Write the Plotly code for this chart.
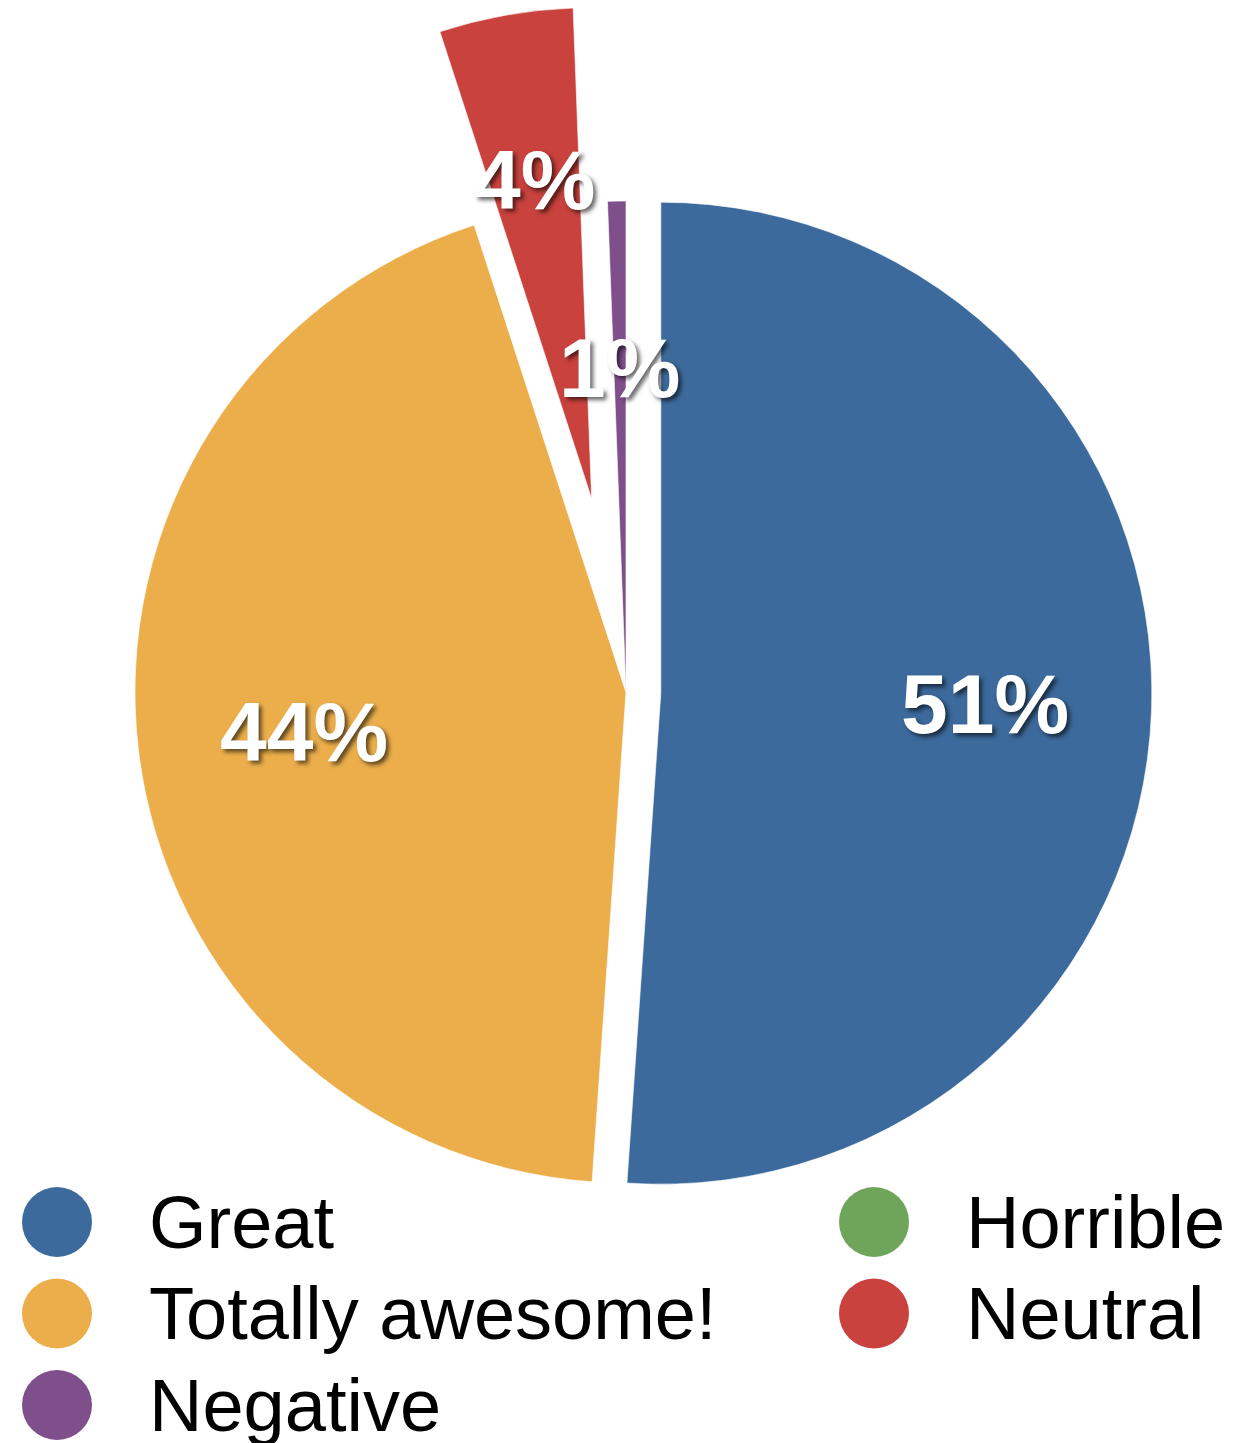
import math
import plotly.graph_objects as go

# ---------------- data ----------------
labels = ["Great", "Horrible", "Totally awesome!", "Neutral", "Negative"]
values = [51.1, 0.0, 43.9, 4.4, 0.6]
colors = ["#3c6a9c", "#6fa55b", "#ebae4b", "#c9423d", "#7f4f8b"]
pulls = [0.071, 0.0, 0.0, 0.40, 0.0]

# ---------------- layout constants (pixels) ----------------
W, H = 1236, 1443
R = 491            # pie radius
CX, CY = 626, 692  # pie centre
BIG_PULL = 0.2     # slices pulled further than this are drawn by their own trace
LABEL_R = 0.66     # label distance from slice apex, fraction of R
FONT = "Liberation Sans, Arial, Helvetica, sans-serif"

total = sum(values)
TRANSPARENT = "rgba(0,0,0,0)"


def slice_dirs():
    dirs = []
    cum = 0.0
    for v in values:
        mid = (cum + v / 2) / total * 2 * math.pi
        dirs.append((math.sin(mid), -math.cos(mid)))
        cum += v
    return dirs


dirs = slice_dirs()


def domain_for(cx, cy, max_pull):
    s = 2 * R * (1 + max_pull)
    return dict(x=[(cx - s / 2) / W, (cx + s / 2) / W],
                y=[1 - (cy + s / 2) / H, 1 - (cy - s / 2) / H])


fig = go.Figure()

# main trace: every slice except the strongly exploded ones
main_colors = [c if p < BIG_PULL else TRANSPARENT for c, p in zip(colors, pulls)]
main_pull = [p if p < BIG_PULL else 0 for p in pulls]
fig.add_trace(go.Pie(
    labels=labels, values=values, sort=False, direction="clockwise", rotation=0,
    pull=main_pull, textinfo="none", hoverinfo="label+percent", showlegend=False,
    marker=dict(colors=main_colors, line=dict(color="rgba(255,255,255,0.6)", width=1)),
    domain=domain_for(CX, CY, max(main_pull)),
))

# strongly exploded slices: same pie, shifted centre
for i, p in enumerate(pulls):
    if p < BIG_PULL:
        continue
    cols = [colors[j] if j == i else TRANSPARENT for j in range(len(values))]
    lw = [1 if j == i else 0 for j in range(len(values))]
    dx, dy = dirs[i]
    fig.add_trace(go.Pie(
        labels=labels, values=values, sort=False, direction="clockwise", rotation=0,
        textinfo="none", hoverinfo="label+percent", showlegend=False,
        marker=dict(colors=cols, line=dict(color="rgba(255,255,255,0.6)", width=lw)),
        domain=domain_for(CX + p * R * dx, CY + p * R * dy, 0),
    ))

annotations = []
# percentage labels
for v, p, (dx, dy) in zip(values, pulls, dirs):
    if v <= 0:
        continue
    px = CX + (p + LABEL_R) * R * dx
    py = CY + (p + LABEL_R) * R * dy
    annotations.append(dict(
        x=px / W, y=1 - py / H, xref="paper", yref="paper",
        text=f"{round(v / total * 100)}%", showarrow=False,
        xanchor="center", yanchor="middle",
        font=dict(family=FONT, size=84, color="white", weight="bold",
                  shadow="3px 3px 4px rgba(0,0,0,0.6)"),
    ))

# custom legend (two columns, row-major)
LEG_COL_X = [57, 874]
LEG_ROW0_Y = 1222
LEG_ROW_DY = 91.5
LEG_DOT_R = 35
LEG_TEXT_DX = 90
shapes = []
for i, (lab, col) in enumerate(zip(labels, colors)):
    cx = LEG_COL_X[i % 2]
    cy = LEG_ROW0_Y + (i // 2) * LEG_ROW_DY
    shapes.append(dict(
        type="circle", xref="paper", yref="paper",
        x0=(cx - LEG_DOT_R) / W, x1=(cx + LEG_DOT_R) / W,
        y0=1 - (cy + LEG_DOT_R) / H, y1=1 - (cy - LEG_DOT_R) / H,
        fillcolor=col, line=dict(width=0),
    ))
    annotations.append(dict(
        x=(cx + LEG_TEXT_DX) / W, y=1 - cy / H, xref="paper", yref="paper",
        text=lab, showarrow=False, xanchor="left", yanchor="middle",
        font=dict(family=FONT, size=74, color="black"),
    ))

fig.update_layout(
    width=W, height=H, margin=dict(l=0, r=0, t=0, b=0),
    paper_bgcolor="white", plot_bgcolor="white",
    showlegend=False, annotations=annotations, shapes=shapes,
)

fig.write_html("out.html", config={"displayModeBar": False},
               post_script="document.body.style.margin='0';"
                           "document.body.style.overflow='hidden';")
